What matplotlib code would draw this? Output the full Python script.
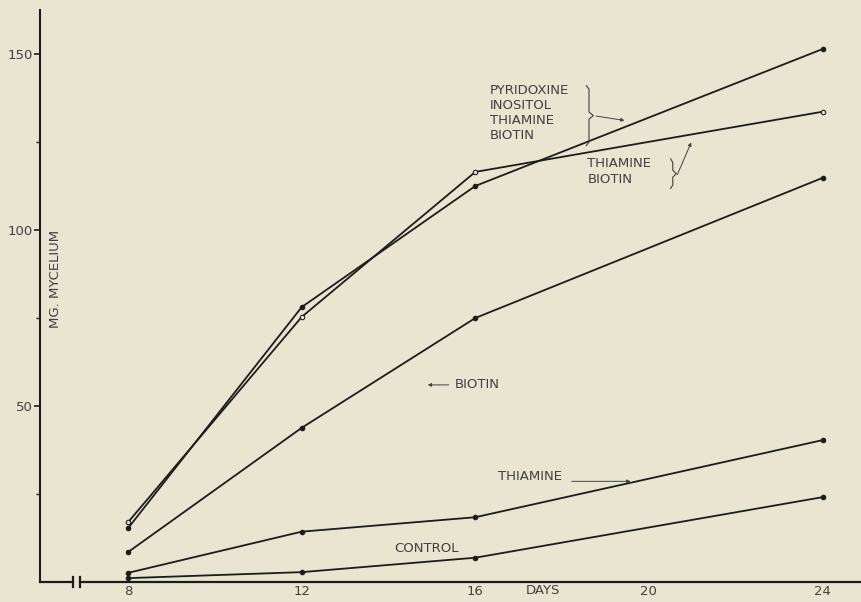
import matplotlib
matplotlib.use("Agg")
import matplotlib.pyplot as plt
from matplotlib.transforms import blended_transform_factory

# Mycelium dry weight (mg) by culture age (days)
days = [8, 12, 16, 24]
control = [1.1, 2.8, 6.9, 24.1]
thiamine = [2.6, 14.3, 18.4, 40.3]
biotin = [8.5, 43.8, 75.0, 114.8]
thiamine_biotin = [17.0, 75.3, 116.5, 133.6]
pyr_ino_thi_bio = [15.3, 78.1, 112.5, 151.4]

x_ticks = [8, 12, 16, 20, 24]
x_tick_labels = ["8", "12", "16", "20", "24"]
y_ticks = [50, 100, 150]
y_minor = [25, 75, 125]

BG = "#e9e5d0"
INK = "#1c1c1c"
TXT = "#404040"
FONT = ["DejaVu Sans"]

plt.rcParams["font.family"] = FONT

fig = plt.figure(figsize=(8.62, 6.02), dpi=100, facecolor=BG)
ax = fig.add_axes([40 / 862, 1 - 582 / 602, 822 / 862, 572 / 602])
ax.set_facecolor(BG)
ax.set_xlim(5.97, 24.91)
ax.set_ylim(0, 162.5)

line_kw = dict(color=INK, lw=1.3, marker="o", markersize=3.2, markeredgewidth=0.8)
ax.plot(days, control, markerfacecolor=INK, **line_kw)
ax.plot(days, thiamine, markerfacecolor=INK, **line_kw)
ax.plot(days, biotin, markerfacecolor=INK, **line_kw)
ax.plot(days, thiamine_biotin, markerfacecolor=BG, **line_kw)
ax.plot(days, pyr_ino_thi_bio, markerfacecolor=INK, **line_kw)

# axes frame: left spine only, bottom axis drawn with a break
for s in ["top", "right", "bottom"]:
    ax.spines[s].set_visible(False)
ax.spines["left"].set_color(INK)
ax.spines["left"].set_linewidth(1.5)

bt = blended_transform_factory(ax.transAxes, ax.transAxes)
ax.plot([0, 0.040], [0, 0], color=INK, lw=1.6, transform=bt, clip_on=False)
ax.plot([0.0487, 1.0], [0, 0], color=INK, lw=1.6, transform=bt, clip_on=False)
for bx in (0.040, 0.0487):
    ax.plot([bx, bx], [-0.008, 0.008], color=INK, lw=1.6, transform=bt, clip_on=False)

ax.set_xticks(x_ticks)
ax.set_xticklabels(x_tick_labels)
ax.tick_params(axis="x", length=0, pad=2, labelsize=9.5, labelcolor=TXT)
ax.set_yticks(y_ticks)
ax.set_yticks(y_minor, minor=True)
ax.tick_params(axis="y", which="major", direction="out", length=4, width=1.2,
               color=INK, pad=1, labelsize=9.5, labelcolor=TXT)
ax.tick_params(axis="y", which="minor", direction="out", length=3, width=1.0, color=INK)

ax.text(17.56, -0.0035, "DAYS", transform=blended_transform_factory(ax.transData, ax.transAxes),
        ha="center", va="top", fontsize=9.5, color=TXT)
ax.text(0.019, 0.53, "MG. MYCELIUM", transform=ax.transAxes, rotation=90,
        ha="center", va="center", fontsize=9.5, color=TXT)

# series labels
lab = dict(fontsize=9.5, color=TXT)
arrow = dict(arrowstyle="-|>", lw=0.7, color=TXT, mutation_scale=5)

ax.text(16.34, 141.6, "PYRIDOXINE\nINOSITOL\nTHIAMINE\nBIOTIN", ha="left", va="top",
        linespacing=1.22, **lab)
ax.text(18.58, 120.6, "THIAMINE\nBIOTIN", ha="left", va="top", linespacing=1.22, **lab)
ax.text(15.53, 56.0, "BIOTIN", ha="left", va="center", **lab)
ax.annotate("", xy=(14.84, 56.0), xytext=(15.45, 56.0), arrowprops=arrow)
ax.text(17.26, 29.9, "THIAMINE", ha="center", va="center", **lab)
ax.annotate("", xy=(19.64, 28.6), xytext=(18.16, 28.6), arrowprops=arrow)
ax.text(14.87, 9.6, "CONTROL", ha="center", va="center", **lab)


def brace(x, y0, y1, w, tip):
    """Draw a thin right-facing curly brace from y0 to y1 at x."""
    ym = (y0 + y1) / 2
    xs = [x - w, x, x, x + tip, x, x, x - w]
    ys = [y1, y1 - 1.0, ym + 1.0, ym, ym - 1.0, y0 + 1.0, y0]
    ax.plot(xs, ys, color=TXT, lw=0.8, solid_joinstyle="round")
    return x + tip, ym


bx, by = brace(18.62, 124.0, 141.0, 0.06, 0.1)
ax.annotate("", xy=(19.5, 131.0), xytext=(bx, by), arrowprops=arrow)
bx2, by2 = brace(20.55, 111.8, 120.2, 0.05, 0.08)
ax.annotate("", xy=(21.0, 125.6), xytext=(bx2, by2 - 1.0), arrowprops=arrow)

fig.savefig("out.png", dpi=100, facecolor=BG)
